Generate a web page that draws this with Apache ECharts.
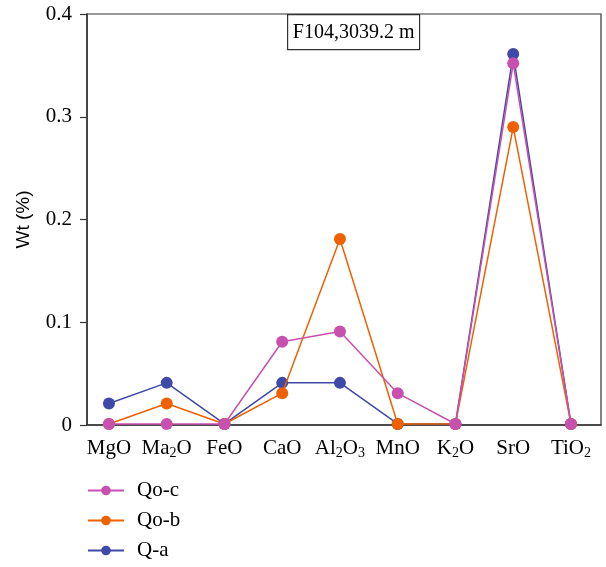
<!DOCTYPE html>
<html>
<head>
<meta charset="utf-8">
<script src="https://cdn.jsdelivr.net/npm/echarts@6/dist/echarts.min.js"></script>
<style>html,body{margin:0;padding:0;background:#fff}#c{width:606px;height:567px}</style>
</head>
<body>
<div id="c"></div>
<script>
var categories = ['{n|MgO}', '{n|Ma}{s|2}{n|O}', '{n|FeO}', '{n|CaO}', '{n|Al}{s|2}{n|O}{s|3}', '{n|MnO}', '{n|K}{s|2}{n|O}', '{n|SrO}', '{n|TiO}{s|2}'];
var seriesNames = ['Qo-c', 'Qo-b', 'Q-a'];
var qoC = [0.001, 0.001, 0.001, 0.081, 0.091, 0.031, 0.001, 0.352, 0.001];
var qoB = [0.001, 0.021, 0.001, 0.031, 0.181, 0.001, 0.001, 0.290, 0.001];
var qA  = [0.021, 0.041, 0.001, 0.041, 0.041, 0.001, 0.001, 0.361, 0.001];
var yTicks = [0, 0.1, 0.2, 0.3, 0.4];
var annotation = 'F104,3039.2 m';

var colors = {'Qo-c': '#C850AE', 'Qo-b': '#EE6000', 'Q-a': '#3F49A8'};
var serif = '"Liberation Serif", "DejaVu Serif", serif';

function toPts(arr) { return arr.map(function (v, i) { return [i, v]; }); }
function mk(name, arr, z) {
  return {
    name: name, type: 'line', data: toPts(arr), z: z,
    symbol: 'circle', symbolSize: 12,
    lineStyle: {width: 1.5, color: colors[name]},
    itemStyle: {color: colors[name]},
    emphasis: {disabled: true}, animation: false
  };
}

var chart = echarts.init(document.getElementById('c'));
chart.setOption({
  animation: false,
  grid: {left: 87, top: 14, right: 5, bottom: 142, show: true, borderColor: '#333', borderWidth: 1.2, backgroundColor: 'transparent'},
  xAxis: {
    type: 'value', min: -0.38, max: 8.52,
    splitLine: {show: false},
    axisLine: {show: true, onZero: false, lineStyle: {color: '#333', width: 1.5}},
    axisTick: {show: false},
    axisLabel: {
      customValues: categories.map(function (c, i) { return i; }),
      margin: 11,
      color: '#000',
      fontFamily: serif, fontSize: 21,
      formatter: function (v) { var i = Math.round(v); return categories[i] !== undefined ? categories[i] : ''; },
      rich: {
        n: {fontFamily: serif, fontSize: 21, color: '#000', lineHeight: 24, verticalAlign: 'middle'},
        s: {fontFamily: serif, fontSize: 14, color: '#000', lineHeight: 14, height: 14, verticalAlign: 'bottom'}
      }
    }
  },
  yAxis: {
    type: 'value', min: 0, max: 0.4, interval: 0.1,
    name: 'Wt (%)', nameLocation: 'middle', nameGap: 54,
    nameTextStyle: {fontFamily: '"Liberation Sans", Arial, sans-serif', fontSize: 19, color: '#000'},
    splitLine: {show: false},
    axisLine: {show: true, onZero: false, lineStyle: {color: '#333', width: 1.5}},
    axisTick: {show: true, length: 7, lineStyle: {color: '#333', width: 1.2}},
    axisLabel: {
      margin: 15, color: '#000', fontFamily: serif, fontSize: 21,
      customValues: yTicks,
      formatter: function (v) { return String(Math.round(v * 10) / 10); }
    }
  },
  legend: {
    orient: 'vertical', left: 87, top: 480, padding: 0,
    data: seriesNames,
    itemWidth: 36, itemHeight: 12, itemGap: 9,
    textStyle: {fontFamily: serif, fontSize: 21, color: '#000', padding: [0, 0, 0, 8]},
    selectedMode: false
  },
  graphic: [{
    type: 'group', left: 287, top: 14,
    children: [
      {type: 'rect', shape: {x: 0, y: 0, width: 132, height: 35}, style: {fill: '#fff', stroke: '#333', lineWidth: 1.2}},
      {type: 'text', x: 66, y: 18, style: {text: annotation, font: '20px ' + serif, fill: '#000', textAlign: 'center', textVerticalAlign: 'middle'}}
    ]
  }],
  series: [mk('Q-a', qA, 2), mk('Qo-b', qoB, 3), mk('Qo-c', qoC, 4)]
});
</script>
</body>
</html>
